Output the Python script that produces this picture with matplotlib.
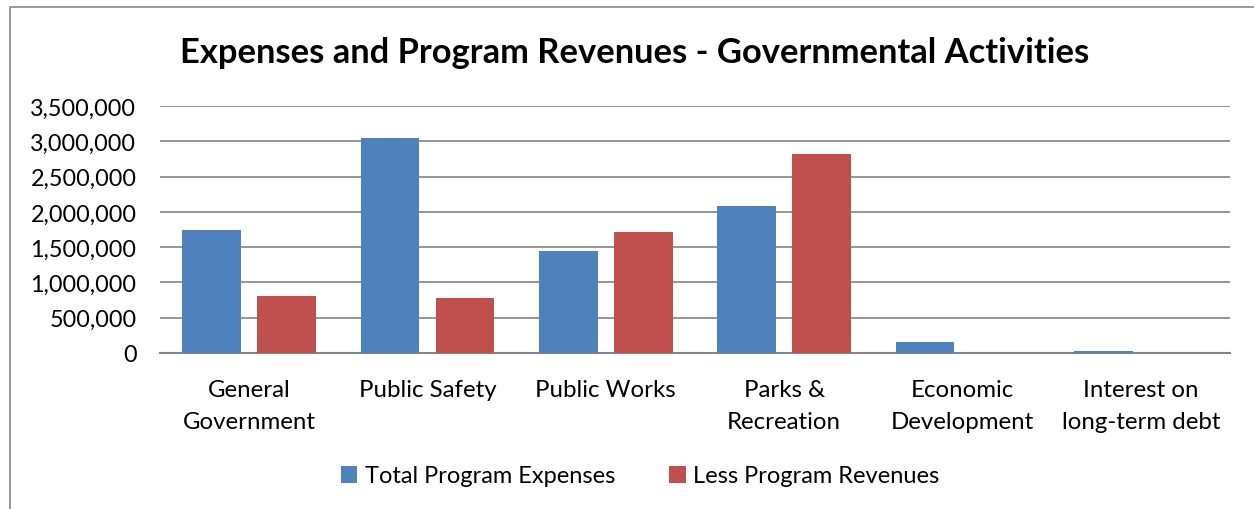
import numpy as np
import matplotlib.pyplot as plt
from matplotlib.patches import Rectangle
from matplotlib.ticker import FuncFormatter

plt.rcParams['font.family'] = ['Lato', 'DejaVu Sans']

categories = ["General\nGovernment", "Public Safety", "Public Works",
              "Parks &\nRecreation", "Economic\nDevelopment", "Interest on\nlong-term debt"]
expenses = [1745000, 3050000, 1445000, 2085000, 160000, 33000]
revenues = [808000, 786000, 1715000, 2820000, 0, 0]
series_names = ["Total Program Expenses", "Less Program Revenues"]

fig = plt.figure(figsize=(12.54, 5.10), dpi=100)
# outer chart frame (cut off at right and bottom like the reference)
fig.patches.append(Rectangle((10/1254, -0.1), 1.2, (510-8)/510 + 0.1,
                             transform=fig.transFigure, fill=False,
                             edgecolor='#888888', linewidth=1.2))

ax = fig.add_axes([160/1254, 1 - 354/510, (1230-160)/1254, 247/510])

x = np.arange(len(categories))
w = 0.33
off = 0.21
ax.bar(x - off, expenses, w, color='#4F81BD', label=series_names[0], zorder=3)
ax.bar(x + off, revenues, w, color='#C0504D', label=series_names[1], zorder=3)

ax.set_xlim(-0.5, len(categories) - 0.5)
ax.set_ylim(0, 3500000)
ax.set_yticks(np.arange(0, 3500001, 500000))
ax.yaxis.set_major_formatter(FuncFormatter(lambda v, p: f"{int(v):,}"))
ax.grid(axis='y', color='#8c8c8c', linewidth=1.3, zorder=0)
ax.set_xticks(x)
ax.set_xticklabels(categories, fontsize=17.3, linespacing=1.6)
ax.tick_params(axis='y', labelsize=16.8, length=0, pad=17)
ax.tick_params(axis='x', length=0, pad=19)
for s in ['top', 'right', 'left']:
    ax.spines[s].set_visible(False)
ax.spines['bottom'].set_color('#868686')
ax.spines['bottom'].set_linewidth(1.5)

fig.text(635/1254, 1 - 53/510, "Expenses and Program Revenues - Governmental Activities",
         ha='center', va='center', fontsize=24.8, fontweight='bold')

fig.legend(loc='center', bbox_to_anchor=(640/1254, 1 - 477/510), ncol=2,
           frameon=False, fontsize=17, handlelength=0.7, handleheight=0.7,
           handletextpad=0.3, columnspacing=2.3)

fig.savefig("out.png", dpi=100)
